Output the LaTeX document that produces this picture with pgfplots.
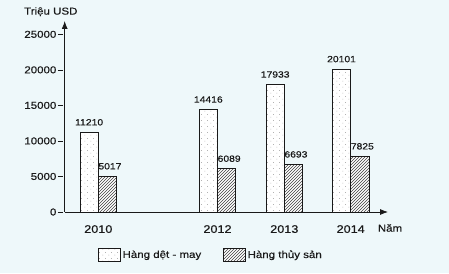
\documentclass[border=0pt]{standalone}
\usepackage{pgfplots}
\pgfplotsset{compat=1.18}
\usepackage{fontspec}
\setmainfont{Liberation Sans}[FakeStretch=1.15,FakeBold=0.4]
\usetikzlibrary{arrows.meta,patterns,patterns.meta}
\definecolor{bg}{RGB}{238,248,250}
\definecolor{ink}{RGB}{25,25,25}
\tikzdeclarepattern{
  name=mydots,
  type=uncolored,
  bottom left={(0pt,0pt)},
  top right={(6pt,6pt)},
  tile size={(6pt,6pt)},
  code={
    \fill (1pt,1pt) circle (0.4pt);
    \fill (4pt,4pt) circle (0.4pt);
  }
}
\begin{document}
\begin{tikzpicture}[x=1pt,y=1pt]
\useasboundingbox (0,0) rectangle (449,273);
\fill[bg] (0,0) rectangle (449,273);
\begin{axis}[
  at={(64.7pt,61pt)}, anchor=south west,
  scale only axis, width=323.3pt, height=191pt,
  xmin=64.7, xmax=388, ymin=0, ymax=26874,
  axis lines=left,
  axis line style={ink, line width=0.8pt, -{Latex[length=8pt,width=6pt]}},
  scaled y ticks=false, scaled x ticks=false,
  ytick={0,5000,10000,15000,20000,25000},
  yticklabels={0,5000,10000,15000,20000,25000},
  xtick={98.3,217.5,284.3,350.7},
  xticklabels={2010,2012,2013,2014},
  xtick style={draw=none},
  ytick style={ink, line width=0.6pt, xshift=-4pt},
  major tick length=5.5pt,
  yticklabel style={font=\fontsize{10}{12}\selectfont, text=ink, inner sep=0pt, xshift=-5.4pt},
  xticklabel style={font=\fontsize{11}{13}\selectfont, text=ink, inner sep=0pt, yshift=-7.5pt},
  ybar, bar width=18.3pt,
  nodes near coords, point meta=explicit symbolic,
  every node near coord/.append style={font=\fontsize{9}{11}\selectfont, inner sep=0pt, yshift=6.5pt, text=ink},
  legend style={at={(0.4525,-0.225)}, anchor=center, draw=none, fill=none, legend columns=2,
    font=\fontsize{10}{12}\selectfont, text=ink,
    /tikz/every even column/.append style={column sep=20pt}},
  legend image code/.code={\draw[#1] (0pt,-6.5pt) rectangle (21.7pt,6.5pt);},
  clip=false,
]
\addplot[draw=ink, line width=0.7pt, fill=white, postaction={pattern=mydots, pattern color=black!60}, bar shift=-9.15pt]
  coordinates {(98.3,11210)[11210] (217.5,14416)[14416] (284.3,17933)[17933] (350.7,20101)[20101]};
\addplot[draw=ink, line width=0.7pt, fill=white, postaction={pattern=north east lines, pattern color=black!75}, bar shift=9.15pt,
  every node near coord/.append style={xshift=2.5pt}]
  coordinates {(98.3,5017)[5017] (217.5,6089)[6089] (284.3,6693)[6693] (350.7,7825)[7825]};
\legend{Hàng dệt - may, Hàng thủy sản}
\end{axis}
\node[font=\fontsize{10}{12}\selectfont, text=ink] at (50.8,261.3) {Triệu USD};
\node[font=\fontsize{10}{12}\selectfont, text=ink] at (390,45) {Năm};
\end{tikzpicture}
\end{document}
